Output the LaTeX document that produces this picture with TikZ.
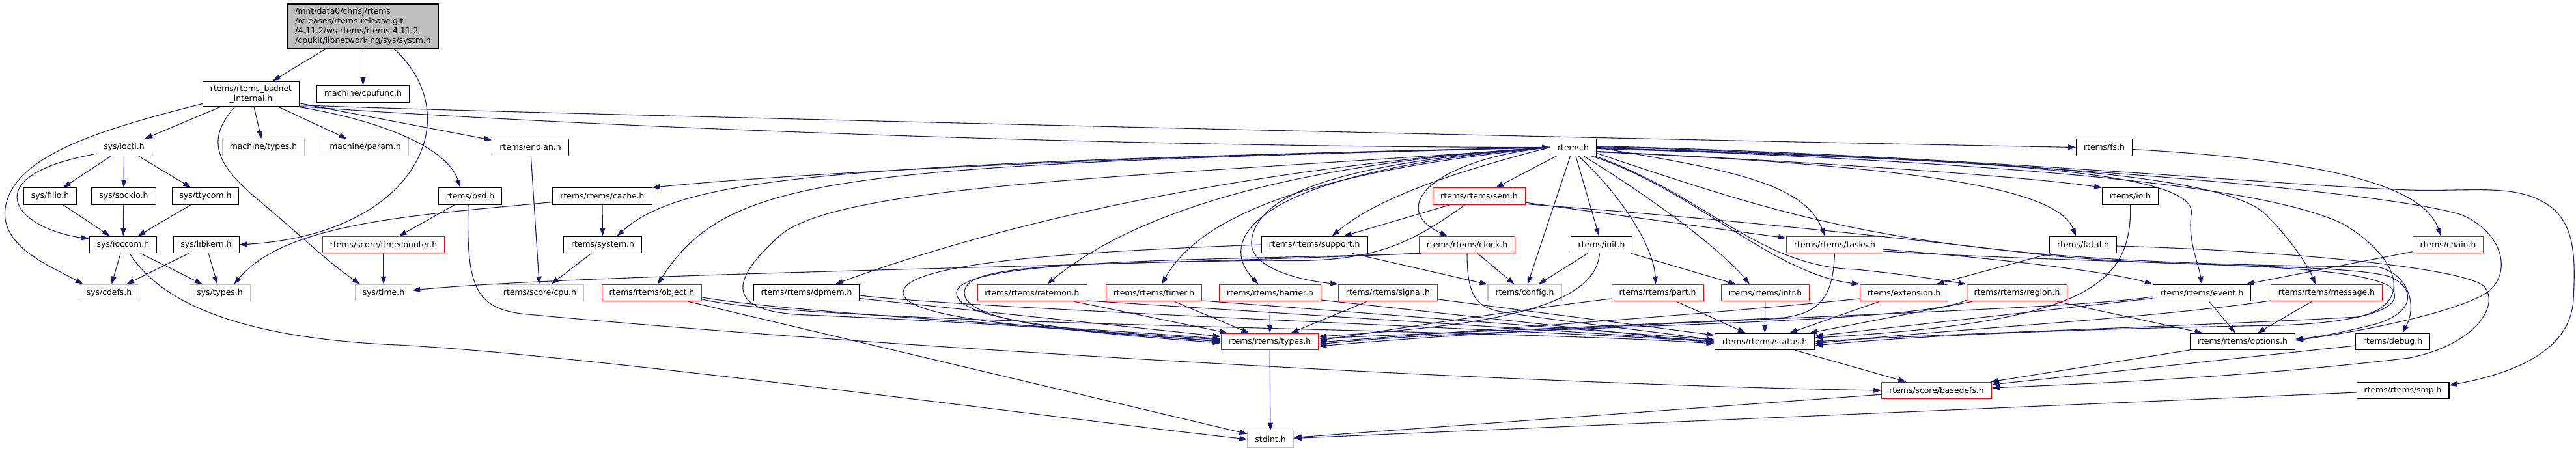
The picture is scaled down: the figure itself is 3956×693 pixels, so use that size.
\documentclass[tikz,border=0pt]{standalone}
\usepackage{fontspec}
\setmainfont{DejaVu Sans}
\usepackage{tikz}
\usetikzlibrary{arrows.meta}
\definecolor{edgeblue}{HTML}{191970}
\definecolor{greyline}{HTML}{BFBFBF}
\definecolor{rootfill}{HTML}{BFBFBF}
\tikzset{
    hdr/.style={shape=rectangle, draw=black, fill=white, line width=1.1pt, inner xsep=11.5pt, inner ysep=0pt, minimum height=25.5pt, font=\fontsize{12.4}{15}\selectfont},
    hdrext/.style={hdr, draw=greyline},
    hdrcut/.style={hdr, draw=red},
    incl/.style={draw=edgeblue, line width=1.1pt, ->}}

\begin{document}
\begin{tikzpicture}[x=1pt, y=-1pt, >={Triangle[length=12pt,width=8pt]}]
\useasboundingbox (0,0) rectangle (3956,693);

                    \node[hdr, fill=rootfill, align=left, minimum height=69pt] (systm) at (557.5,40.5) {/mnt/data0/chrisj/rtems\\/releases/rtems-release.git\\/4.11.2/ws-rtems/rtems-4.11.2\\/cpukit/libnetworking/sys/systm.h};
                    \node[hdr, align=center, minimum height=39pt] (bsdnet) at (385.5,144.5) {rtems/rtems\_bsdnet\\\_internal.h};
                    \node[hdr] (cpufunc) at (557.5,144.5) {machine/cpufunc.h};

                    \node[hdr] (ioctl) at (190.5,226.5) {sys/ioctl.h};
                    \node[hdrext] (mtypes) at (404.5,226.5) {machine/types.h};
                    \node[hdrext] (mparam) at (561,226.5) {machine/param.h};
                    \node[hdr] (endian) at (814.5,226.5) {rtems/endian.h};
                    \node[hdr] (rtems) at (2416,226.5) {rtems.h};
                    \node[hdr] (fs) at (3231.5,226.5) {rtems/fs.h};

                    \node[hdr] (filio) at (77,301.5) {sys/filio.h};
                    \node[hdr] (sockio) at (190,301.5) {sys/sockio.h};
                    \node[hdr] (ttycom) at (315.5,301.5) {sys/ttycom.h};
                    \node[hdr] (bsd) at (722,301.5) {rtems/bsd.h};
                    \node[hdr] (cache) at (925,301.5) {rtems/rtems/cache.h};
                    \node[hdrcut] (sem) at (2271.5,301.5) {rtems/rtems/sem.h};
                    \node[hdr] (io) at (3271.5,301.5) {rtems/io.h};

                    \node[hdr] (ioccom) at (189,376) {sys/ioccom.h};
                    \node[hdr] (libkern) at (316.5,376) {sys/libkern.h};
                    \node[hdrcut] (tcounter) at (589,376) {rtems/score/timecounter.h};
                    \node[hdr] (system) at (925.5,376) {rtems/system.h};
                    \node[hdr] (support) at (2018.5,376) {rtems/rtems/support.h};
                    \node[hdrcut] (clock) at (2253,376) {rtems/rtems/clock.h};
                    \node[hdr] (init) at (2459.5,376) {rtems/init.h};
                    \node[hdrcut] (tasks) at (2817.5,376) {rtems/rtems/tasks.h};
                    \node[hdr] (fatal) at (3199,376) {rtems/fatal.h};
                    \node[hdrcut] (chain) at (3759.5,376) {rtems/chain.h};

                    \node[hdrext] (cdefs) at (167.5,450) {sys/cdefs.h};
                    \node[hdrext] (stypes) at (337.5,450) {sys/types.h};
                    \node[hdrext] (stime) at (589,450) {sys/time.h};
                    \node[hdrext] (cpu) at (829,450) {rtems/score/cpu.h};
                    \node[hdrcut] (object) at (1001,450) {rtems/rtems/object.h};
                    \node[hdr] (dpmem) at (1238.5,450) {rtems/rtems/dpmem.h};
                    \node[hdrcut] (ratemon) at (1585,450) {rtems/rtems/ratemon.h};
                    \node[hdrcut] (timer) at (1772,450) {rtems/rtems/timer.h};
                    \node[hdrcut] (barrier) at (1950.5,450) {rtems/rtems/barrier.h};
                    \node[hdrcut] (signal) at (2131.5,450) {rtems/rtems/signal.h};
                    \node[hdrext] (config) at (2341.5,450) {rtems/config.h};
                    \node[hdrcut] (part) at (2545.5,450) {rtems/rtems/part.h};
                    \node[hdrcut] (intr) at (2711,450) {rtems/rtems/intr.h};
                    \node[hdrcut] (ext) at (2924,450) {rtems/extension.h};
                    \node[hdrcut] (region) at (3097.5,450) {rtems/rtems/region.h};
                    \node[hdr] (event) at (3381.5,450) {rtems/rtems/event.h};
                    \node[hdrcut] (message) at (3573,450) {rtems/rtems/message.h};

                    \node[hdrcut] (rtypes) at (1950,525) {rtems/rtems/types.h};
                    \node[hdr] (status) at (2710,525) {rtems/rtems/status.h};
                    \node[hdr] (options) at (3444,525) {rtems/rtems/options.h};
                    \node[hdr] (debug) at (3674.5,525) {rtems/debug.h};
                    \node[hdrcut] (basedefs) at (2974,600) {rtems/score/basedefs.h};
                    \node[hdr] (smp) at (3690,600) {rtems/rtems/smp.h};
                    \node[hdrext] (stdint) at (1951,675) {stdint.h};

                    % systm.h and rtems_bsdnet_internal.h
                    \draw[incl] (systm) -- (bsdnet);
                    \draw[incl] (systm) -- (cpufunc);
                    \draw[incl] ([xshift=48pt]systm.south) .. controls (720,180) and (640,360) .. (libkern.east);
                    \draw[incl] ([yshift=-15pt]bsdnet.west) .. controls (150,200) and (20,240) .. (8,320) .. controls (0,380) and (80,410) .. ([xshift=-40pt]cdefs.north);
                    \draw[incl] (bsdnet) -- (ioctl);
                    \draw[incl] ([xshift=-25pt]bsdnet.south) .. controls (310,220) and (340,260) .. (400,310) .. controls (460,360) and (500,400) .. ([xshift=-36pt]stime.north);
                    \draw[incl] (bsdnet) -- (mtypes);
                    \draw[incl] (bsdnet) -- (mparam);
                    \draw[incl] (bsdnet) -- (endian);
                    \draw[incl] (bsdnet.south east) .. controls (610,190) and (690,235) .. ([xshift=-15pt]bsd.north);
                    \draw[incl] ([yshift=1pt]bsdnet.south east) .. controls (900,195) and (1700,226) .. (rtems.west);
                    \draw[incl] ([yshift=3pt]bsdnet.south east) .. controls (700,172) and (2400,212) .. (fs.west);

                    % sys headers
                    \draw[incl] (ioctl) -- (filio);
                    \draw[incl] (ioctl) -- (sockio);
                    \draw[incl] (ioctl) -- (ttycom);
                    \draw[incl] ([yshift=-10pt]ioctl.west) .. controls (-40,270) and (20,350) .. ([yshift=9pt]ioccom.west);
                    \draw[incl] (filio) -- (ioccom);
                    \draw[incl] (sockio) -- (ioccom);
                    \draw[incl] (ttycom) -- (ioccom);
                    \draw[incl] (ioccom) -- (cdefs);
                    \draw[incl] (ioccom) -- (stypes);
                    \draw[incl] ([xshift=10pt]ioccom.south) .. controls (250,470) and (380,520) .. (610,530) .. controls (900,545) and (1600,640) .. (stdint.west);
                    \draw[incl] (libkern) -- (cdefs);
                    \draw[incl] (libkern) -- (stypes);
                    \draw[incl] (bsd) -- (tcounter);
                    \draw[incl] (tcounter) -- (stime);
                    \draw[incl] ([xshift=-3pt]bsd.south) .. controls (716,440) and (730,472) .. (800,482) .. controls (1300,530) and (2300,590) .. (basedefs.west);
                    \draw[incl] (cache) -- (system);
                    \draw[incl] ([yshift=-9pt]cache.west) .. controls (650,330) and (440,340) .. ([xshift=22pt]stypes.north);
                    \draw[incl] (endian) -- (cpu);
                    \draw[incl] (system) -- (cpu);

                    % rtems.h
                    \draw[incl] (rtems.west) .. controls (1700,240) and (1200,268) .. (cache.north east);
                    \draw[incl] (rtems.west) .. controls (1300,250) and (1050,270) .. ([xshift=22pt]system.north);
                    \draw[incl] (rtems.west) .. controls (1300,255) and (1120,265) .. ([xshift=9pt]object.north);
                    \draw[incl] (rtems.west) .. controls (2000,250) and (1600,320) .. ([xshift=44pt]dpmem.north);
                    \draw[incl] (rtems.west) .. controls (1800,270) and (1300,280) .. (1200,360) .. controls (1120,430) and (1110,480) .. (1240,484) .. controls (1500,495) and (1700,510) .. ([yshift=3pt]rtypes.west);
                    \draw[incl] (rtems.west) .. controls (2000,250) and (1750,320) .. ([xshift=23pt]ratemon.north);
                    \draw[incl] (rtems.west) .. controls (2050,260) and (1850,320) .. ([xshift=12pt]timer.north);
                    \draw[incl] (rtems.west) .. controls (1950,260) and (1860,360) .. ([xshift=-18pt]barrier.north);
                    \draw[incl] (rtems.west) .. controls (2050,250) and (1930,300) .. (1922,370) .. controls (1918,410) and (1990,430) .. (signal.north west);
                    \draw[incl] (rtems.west) .. controls (2250,260) and (2120,300) .. ([xshift=27pt]support.north);
                    \draw[incl] (rtems) -- (sem);
                    \draw[incl] (rtems.west) .. controls (2200,245) and (2130,320) .. ([xshift=-30pt]clock.north);
                    \draw[incl] (rtems) -- (config);
                    \draw[incl] (rtems) -- (init);
                    \draw[incl] ([xshift=8pt]rtems.south) .. controls (2490,300) and (2540,380) .. ([xshift=-3pt]part.north);
                    \draw[incl] ([xshift=16pt]rtems.south) .. controls (2530,300) and (2640,380) .. ([xshift=-24pt]intr.north);
                    \draw[incl] ([xshift=28pt]rtems.south) .. controls (2600,290) and (2720,420) .. (ext.north west);
                    \draw[incl] (rtems.east) .. controls (2650,260) and (2770,280) .. ([xshift=-15pt]tasks.north);
                    \draw[incl] ([xshift=33pt]rtems.south) .. controls (2620,300) and (2700,410) .. (2850,414) .. controls (2930,422) and (2980,430) .. (region.north west);
                    \draw[incl] ([yshift=-6pt]rtems.east) .. controls (2800,250) and (3100,270) .. (io.north west);
                    \draw[incl] ([yshift=-7pt]rtems.east) .. controls (2950,255) and (3160,290) .. ([xshift=-11pt]fatal.north);
                    \draw[incl] ([yshift=-2pt]rtems.east) .. controls (3000,245) and (3380,258) .. (3365,330) .. controls (3360,370) and (3375,400) .. (event.north);
                    \draw[incl] ([yshift=-1pt]rtems.east) .. controls (3100,245) and (3420,270) .. (3480,330) .. controls (3520,370) and (3545,410) .. ([xshift=-17pt]message.north);
                    \draw[incl] ([yshift=1pt]rtems.east) .. controls (3000,240) and (3650,290) .. (3780,330) .. controls (3850,360) and (3860,430) .. (3810,455) .. controls (3750,485) and (3620,510) .. ([yshift=2pt]options.east);
                    \draw[incl] ([yshift=2pt]rtems.east) .. controls (3000,238) and (3500,285) .. (3700,292) .. controls (3800,295) and (3870,280) .. (3920,320) .. controls (3955,350) and (3955,400) .. (3952,460) .. controls (3948,530) and (3880,570) .. ([yshift=8pt]smp.east);
                    \draw[incl] (rtems.east) .. controls (2900,245) and (3450,270) .. (3600,345) .. controls (3690,400) and (3705,470) .. (3620,487) .. controls (3400,500) and (3000,512) .. (status.east);
                    \draw[incl] ([yshift=-9pt]rtems.east) .. controls (2780,345) and (2950,405) .. (3650,410) .. controls (3700,420) and (3712,470) .. ([xshift=15pt]debug.north);

                    % second level
                    \draw[incl] (sem) -- (support);
                    \draw[incl] (sem) -- (tasks);
                    \draw[incl] ([xshift=-22pt]sem.south) .. controls (2160,380) and (2100,405) .. (1950,400) .. controls (1600,405) and (1481,410) .. (1481,450) .. controls (1481,495) and (1650,510) .. ([yshift=-2pt]rtypes.west);
                    \draw[incl] ([yshift=-12pt]sem.east) .. controls (2700,340) and (3000,375) .. (3150,393) .. controls (3350,412) and (3600,405) .. (3670,425) .. controls (3715,445) and (3705,485) .. (3640,500) .. controls (3600,510) and (3560,518) .. ([yshift=4pt]options.east);
                    \draw[incl] (support) -- (config);
                    \draw[incl] (support.west) .. controls (1700,385) and (1385,400) .. (1387,450) .. controls (1389,490) and (1600,505) .. ([yshift=1pt]rtypes.west);
                    \draw[incl] (clock) -- (config);
                    \draw[incl] (clock.south west) .. controls (1700,410) and (900,420) .. ([yshift=4pt]stime.east);
                    \draw[incl] ([xshift=4pt]clock.south west) .. controls (1900,400) and (1470,395) .. (1469,450) .. controls (1468,492) and (1650,508) .. (rtypes.west);
                    \draw[incl] (clock.south) .. controls (2253,450) and (2265,470) .. (2300,478) .. controls (2400,495) and (2550,510) .. ([yshift=2pt]status.west);
                    \draw[incl] (init) -- (config);
                    \draw[incl] (init) -- (intr);
                    \draw[incl] ([xshift=-3pt]init.south) .. controls (2450,470) and (2300,500) .. ([yshift=8pt]rtypes.east);
                    \draw[incl] (tasks.south) .. controls (2815,450) and (2800,480) .. (2740,488) .. controls (2500,500) and (2200,512) .. ([yshift=5pt]rtypes.east);
                    \draw[incl] ([yshift=-7pt]tasks.east) .. controls (3100,400) and (3250,420) .. (event.north west);
                    \draw[incl] ([yshift=-10pt]tasks.east) .. controls (3300,410) and (3600,400) .. (3670,440) .. controls (3700,470) and (3640,495) .. (3500,500) .. controls (3200,505) and (2950,515) .. ([yshift=-6pt]status.east);
                    \draw[incl] (fatal) -- (ext);
                    \draw[incl] ([yshift=-2pt]fatal.east) .. controls (3500,385) and (3780,410) .. (3815,440) .. controls (3840,470) and (3800,530) .. (3700,550) .. controls (3450,580) and (3200,590) .. ([yshift=4pt]basedefs.east);
                    \draw[incl] (chain) -- (event);
                    \draw[incl] ([yshift=-3pt]fs.east) .. controls (3550,245) and (3720,280) .. ([xshift=-11pt]chain.north);
                    \draw[incl] (io.south) .. controls (3275,440) and (3200,495) .. ([yshift=6pt]status.east);

                    % third level
                    \draw[incl] ([yshift=-7pt]object.east) .. controls (1250,485) and (1700,505) .. ([yshift=4pt]rtypes.west);
                    \draw[incl] ([yshift=-10pt]object.east) .. controls (1250,500) and (2300,505) .. ([yshift=-3pt]status.west);
                    \draw[incl] (object) -- (stdint);
                    \draw[incl] (dpmem) -- (rtypes);
                    \draw[incl] ([yshift=-4pt]dpmem.east) .. controls (1500,475) and (2300,505) .. (status.west);
                    \draw[incl] (ratemon) -- (rtypes);
                    \draw[incl] ([yshift=-12pt]ratemon.east) -- ([yshift=1pt]status.west);
                    \draw[incl] (timer) -- (rtypes);
                    \draw[incl] ([yshift=-12pt]timer.east) -- ([yshift=3pt]status.west);
                    \draw[incl] (barrier) -- (rtypes);
                    \draw[incl] ([yshift=-11pt]barrier.east) -- ([yshift=-2pt]status.west);
                    \draw[incl] (signal) -- (rtypes);
                    \draw[incl] (signal) -- (status);
                    \draw[incl] (part) -- (status);
                    \draw[incl] ([yshift=-9pt]part.west) .. controls (2300,480) and (2150,505) .. ([yshift=2pt]rtypes.east);
                    \draw[incl] (intr) -- (status);
                    \draw[incl] (ext) -- (status);
                    \draw[incl] ([yshift=-9pt]ext.west) .. controls (2600,485) and (2300,505) .. ([yshift=-1pt]rtypes.east);
                    \draw[incl] (region) -- (status);
                    \draw[incl] (region) -- (options);
                    \draw[incl] ([yshift=-11pt]region.west) .. controls (2950,500) and (2300,500) .. ([yshift=-4pt]rtypes.east);
                    \draw[incl] (event) -- (options);
                    \draw[incl] (event) -- (status);
                    \draw[incl] ([yshift=-6pt]event.west) .. controls (3150,480) and (2500,490) .. ([yshift=-7pt]rtypes.east);
                    \draw[incl] (message) -- (options);
                    \draw[incl] ([yshift=-12pt]message.west) .. controls (3300,490) and (3000,505) .. ([yshift=-3pt]status.east);

                    % bottom
                    \draw[incl] (status) -- (basedefs);
                    \draw[incl] (options) -- (basedefs);
                    \draw[incl] (debug) -- (basedefs);
                    \draw[incl] (rtypes) -- (stdint);
                    \draw[incl] (basedefs) -- (stdint);
                    \draw[incl] (smp) -- (stdint);

                \end{tikzpicture}
\end{document}
